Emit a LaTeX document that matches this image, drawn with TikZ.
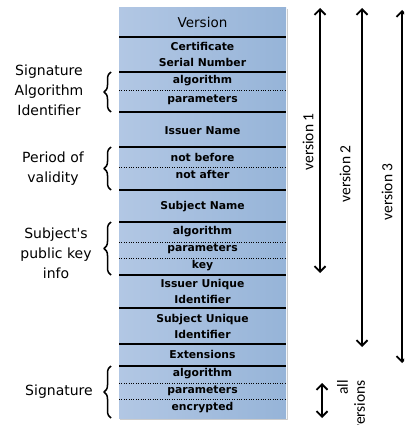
\documentclass[tikz,border=0pt]{standalone}
\usepackage{fontspec}
\setmainfont{DejaVu Sans}[Ligatures=TeXOff]
\newfontfamily\versionfont{Carlito}
\usetikzlibrary{arrows.meta,decorations.pathreplacing}
\definecolor{boxleft}{RGB}{178,199,228}
\definecolor{boxmid}{RGB}{226,234,245}
\definecolor{boxright}{RGB}{150,180,216}

\begin{document}
\begin{tikzpicture}[x=1pt, y=-1pt, >={Straight Barb[length=5.5pt,width=11pt]}, line join=round]
  % Marco del dibujo
  \useasboundingbox (0,0) rectangle (404,425);
  \clip (0,0) rectangle (404,425);

  % Esquinas del certificado
  \coordinate (BoxTop) at (119,8);
  \coordinate (BoxBot) at (286,418);

  % Estilos para campos, llaves y flechas
  \tikzset{
    sepline/.style={line width=1.5pt, color=black},
    dotline/.style={line width=1pt, dash pattern=on 1pt off 1.4pt, color=black},
    fieldtext/.style={font=\fontsize{10.8}{16}\selectfont\bfseries, align=center},
    sidetext/.style={font=\fontsize{14}{20}\selectfont, align=center},
    bracestyle/.style={decorate, decoration={brace, amplitude=7pt}, line width=1.5pt},
    versionarrow/.style={<->, line width=1.9pt},
    versiontext/.style={font=\versionfont\fontsize{15.5}{17}\selectfont, rotate=90}
  }

  % Fondo degradado y sombra
  \draw[gray!40, line width=1pt] (287.5,9) -- (287.5,419.5) -- (120,419.5);
  \shade[left color=boxleft, middle color=boxmid, right color=boxright] (BoxTop) rectangle (BoxBot);

  % Separadores de campos
  \draw[sepline] (119,37) -- (286,37) (119,72) -- (286,72) (119,112) -- (286,112)
    (119,147) -- (286,147) (119,190) -- (286,190) (119,222) -- (286,222)
    (119,275) -- (286,275) (119,308) -- (286,308) (119,344) -- (286,344)
    (119,366) -- (286,366);
  \draw[dotline] (119,91) -- (286,91) (119,167) -- (286,167) (119,242) -- (286,242)
    (119,258) -- (286,258) (119,383) -- (286,383) (119,399) -- (286,399);

  % Campos del certificado
  \node[font=\fontsize{13.5}{16}\selectfont] (Version) at (202.5,22) {Version};
  \node[fieldtext] (SerialNum) at (202.5,54) {Certificate\\Serial Number};
  \node[fieldtext] (SigAlg) at (202.5,81) {algorithm};
  \node[fieldtext] (SigParam) at (202.5,100) {parameters};
  \node[fieldtext] (Issuer) at (202.5,131) {Issuer Name};
  \node[fieldtext] (NotBefore) at (202.5,157) {not before};
  \node[fieldtext] (NotAfter) at (202.5,174) {not after};
  \node[fieldtext] (Subject) at (202.5,207) {Subject Name};
  \node[fieldtext] (KeyAlg) at (202.5,232) {algorithm};
  \node[fieldtext] (KeyParam) at (202.5,249) {parameters};
  \node[fieldtext] (KeyValue) at (202.5,266) {key};
  \node[fieldtext] (IssuerUID) at (202.5,291.5) {Issuer Unique\\Identifier};
  \node[fieldtext] (SubjectUID) at (202.5,326.5) {Subject Unique\\Identifier};
  \node[fieldtext] (Extensions) at (202.5,354) {Extensions};
  \node[fieldtext] (EncAlg) at (202.5,374) {algorithm};
  \node[fieldtext] (EncParam) at (202.5,391) {parameters};
  \node[fieldtext] (Encrypted) at (202.5,408) {encrypted};

  % Llaves y etiquetas de la izquierda
  \draw[bracestyle] (111,112) -- (111,72);
  \draw[bracestyle] (111,190) -- (111,147);
  \draw[bracestyle] (111,275) -- (111,222);
  \draw[bracestyle] (111,418) -- (111,366);
  \node[sidetext] (SigAlgLabel) at (49,90) {Signature\\Algorithm\\Identifier};
  \node[sidetext] (ValidityLabel) at (53,169) {Period of\\validity};
  \node[sidetext] (KeyInfoLabel) at (56,253) {Subject's\\public key\\info};
  \node[sidetext] (SignatureLabel) at (59,392) {Signature};

  % Flechas de versiones
  \coordinate (V1Top) at (320,8);
  \coordinate (V1Bot) at (320,273);
  \coordinate (V2Top) at (362,8);
  \coordinate (V2Bot) at (362,347);
  \coordinate (V3Top) at (402,10);
  \coordinate (V3Bot) at (402,363);
  \coordinate (AllTop) at (322,383);
  \coordinate (AllBot) at (322,418);
  \draw[versionarrow] (V1Top) -- (V1Bot);
  \draw[versionarrow] (V2Top) -- (V2Bot);
  \draw[versionarrow] (V3Top) -- (V3Bot);
  \draw[versionarrow] (AllTop) -- (AllBot);

  % Etiquetas de versiones
  \node[versiontext] (V1Label) at (308,142) {version 1};
  \node[versiontext] (V2Label) at (345,174) {version 2};
  \node[versiontext] (V3Label) at (387,192) {version 3};
  \node[versiontext, align=right] (AllLabel) at (351,406) {all\\versions};

\end{tikzpicture}
\end{document}
